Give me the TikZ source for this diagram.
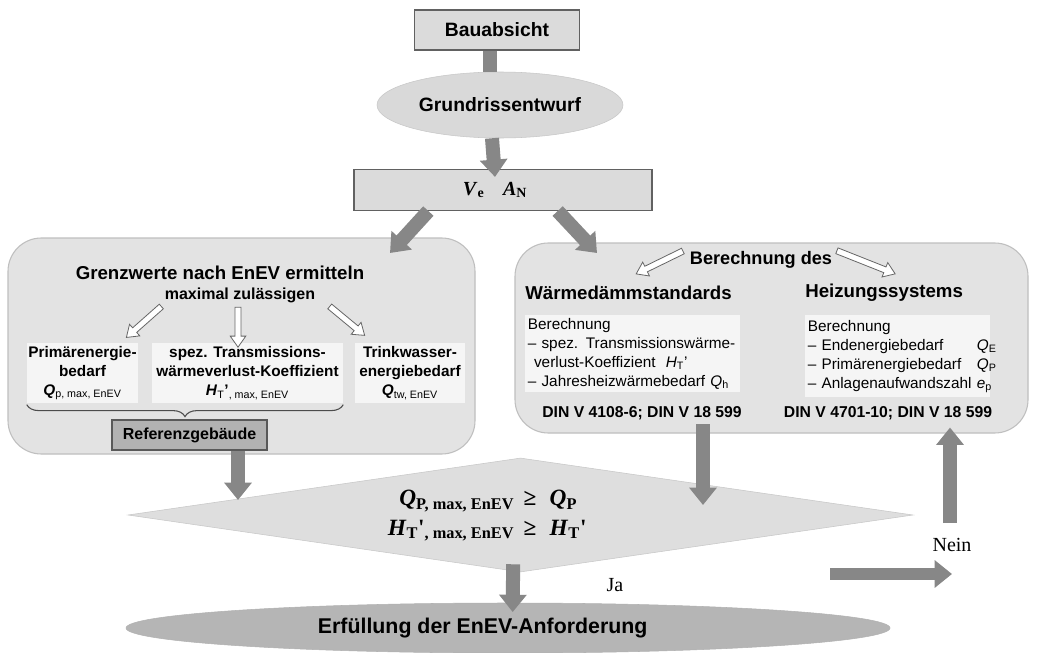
\documentclass[tikz,border=0pt]{standalone}
\usepackage{fontspec}
\setmainfont{Liberation Sans}
\newfontfamily\tnr{Liberation Serif}
\usepackage{tikz}
\usetikzlibrary{arrows.meta,positioning,calc,shapes.geometric,shapes.arrows,decorations.pathreplacing}

\begin{document}
\begin{tikzpicture}[
  x=0.75pt, y=-0.75pt,
  box/.style={draw=black!62, fill=black!14, line width=0.8pt, inner sep=0pt},
  oval/.style={ellipse, draw=black!22, fill=black!15, inner sep=0pt},
  panel/.style={draw=black!25, fill=black!11, rounded corners=25pt, line width=0.8pt},
  item/.style={fill=black!4, inner sep=0.5pt, align=center, font=\bfseries\fontsize{11.5}{14.25}\selectfont},
  note/.style={fill=black!4, inner sep=2pt, align=left, anchor=north west, minimum height=57.75pt, font=\fontsize{11.5}{14.25}\selectfont},
  arrow/.style={draw=black!47, line width=10.5pt, -{Triangle[length=13pt,width=20pt]}},
  bar/.style={draw=black!47, line width=11pt},
  hollow/.style={single arrow, draw=black!60, fill=white, line width=0.6pt, inner xsep=0pt, inner ysep=2pt,
    single arrow head extend=3.5pt, single arrow tip angle=70, sloped, allow upside down},
  curly/.style={decorate, decoration={brace, mirror, amplitude=9pt}, draw=black!70, line width=0.8pt}
]
\path[use as bounding box, fill=white] (0,0) rectangle (1039,653);

\node[box, minimum width=123.75pt, minimum height=30pt, font=\bfseries\fontsize{14.5}{17}\selectfont] (bau) at (497,30) {Bauabsicht};
\node[oval, minimum width=184.5pt, minimum height=49.5pt, font=\bfseries\fontsize{14.5}{17}\selectfont] (grund) at (500,105) {Grundrissentwurf};
\node[box, minimum width=223.5pt, minimum height=30.75pt, font=\tnr\bfseries\fontsize{15}{17}\selectfont] (ve) at (503,190) {\textit{V}\textsubscript{e}\hspace{14pt}\textit{A}\textsubscript{N}\hspace*{12pt}};

\node[panel, minimum width=350.25pt, minimum height=162pt] (lbox) at (241.5,346) {};
\node[panel, minimum width=384.75pt, minimum height=142.5pt] (rbox) at (771.5,338) {};

\node[font=\bfseries\fontsize{14}{16}\selectfont] (grenz) at (220,273) {Grenzwerte nach EnEV ermitteln};
\node[font=\bfseries\fontsize{12}{14}\selectfont] (maxz) at (240,295) {maximal zulässigen};
\node[item, minimum width=83.25pt, minimum height=45pt] (prim) at (82.5,373) {Primärenergie-\\bedarf\\\textit{Q}\textsubscript{\mdseries p, max, EnEV}};
\node[item, minimum width=143.25pt, minimum height=45pt] (trans) at (247.5,373) {spez. Transmissions-\\wärmeverlust-Koeffizient\\\textit{H}\textsubscript{\mdseries T}'\textsubscript{\mdseries , max, EnEV}};
\node[item, minimum width=82.5pt, minimum height=45pt] (trink) at (410,373) {Trinkwasser-\\energiebedarf\\\textit{Q}\textsubscript{\mdseries tw, EnEV}};
\node[draw=black!65, fill=black!30, line width=0.8pt, minimum width=116.25pt, minimum height=22.5pt, font=\bfseries\fontsize{12}{14}\selectfont] (ref) at (189.5,435) {Referenzgebäude};

\node[font=\bfseries\fontsize{13.6}{16}\selectfont] (berech) at (761,260) {Berechnung des};
\node[anchor=west, inner sep=0pt, font=\bfseries\fontsize{14}{16}\selectfont] (waerme) at (525,293) {Wärmedämmstandards};
\node[anchor=west, inner sep=0pt, font=\bfseries\fontsize{14}{16}\selectfont] (heiz) at (805,293) {Heizungssystems};
\node[note, text width=157pt] (wbox) at (525,315) {Berechnung\\– spez. Transmissionswärme-\\\hspace*{0.4em}verlust-Koeffizient~~\textit{H}\textsubscript{T}'\\– Jahresheizwärmebedarf \textit{Q}\textsubscript{h}};
\node[note, text width=134.75pt] (hbox) at (805,315) {\begin{tabular}{@{}l@{\hspace{4pt}}l@{}}
Berechnung & \\
– Endenergiebedarf & \textit{Q}\textsubscript{E}\\
– Primärenergiebedarf & \textit{Q}\textsubscript{P}\\
– Anlagenaufwandszahl & \textit{e}\textsubscript{p}
\end{tabular}};
\node[font=\bfseries\fontsize{11.8}{14}\selectfont] (din1) at (642,413) {DIN V 4108-6; DIN V 18 599};
\node[font=\bfseries\fontsize{11.8}{14}\selectfont] (din2) at (888,413) {DIN V 4701-10; DIN V 18 599};

\node[diamond, shape aspect=6.9, draw=black!22, fill=black!13, minimum width=588.75pt, minimum height=85.5pt, inner sep=0pt, font=\tnr\bfseries\fontsize{17.5}{20}\selectfont] (dia) at (520.5,515) {\begin{tabular}{@{}r@{\hspace{7pt}}c@{\hspace{10pt}}l@{}}
\textit{Q}\textsubscript{P, max, EnEV} & ≥ & \textit{Q}\textsubscript{P}\\[2pt]
\textit{H}\textsubscript{T}'\textsubscript{, max, EnEV} & ≥ & \textit{H}\textsubscript{T}'
\end{tabular}\hspace*{50pt}};
\node[ellipse, draw=black!30, fill=black!29, minimum width=573pt, minimum height=37.5pt, font=\bfseries\fontsize{16}{18}\selectfont] (fin) at (508,628) {Erfüllung der EnEV-Anforderung\hspace*{38pt}};
\node[font=\tnr\fontsize{15}{18}\selectfont] (nein) at (952,545) {Nein};
\node[font=\tnr\fontsize{15}{18}\selectfont] (ja) at (615,585) {Ja};

\coordinate (lt) at (390,253);
\coordinate (rt) at (597,253);
\coordinate (h1s) at (163,305);
\coordinate (h1e) at (128,336);
\coordinate (h2s) at (238,305);
\coordinate (h2e) at (238,345);
\coordinate (h3s) at (328,305);
\coordinate (h3e) at (363,334);
\coordinate (h4s) at (685,250);
\coordinate (h4e) at (638,273);
\coordinate (h5s) at (835,250);
\coordinate (h5e) at (893,273);
\coordinate (rd) at (238,500);
\coordinate (wd) at (703,505);
\coordinate (nh) at (830,574);
\coordinate (nu) at (950,523);

\draw[bar] ([xshift=-5.25pt]bau.south) -- ([xshift=-5.25pt]bau.south |- grund.north);
\draw[arrow] ([xshift=-6pt]grund.south) -- ([xshift=-6pt,yshift=-6pt]ve.north);
\draw[arrow] ([xshift=-56pt]ve.south) -- (lt);
\draw[arrow] ([xshift=41pt]ve.south) -- (rt);
\path (h1s) -- node[hollow, minimum height=35pt] {} (h1e);
\path (h2s) -- node[hollow, minimum height=30pt] {} (h2e);
\path (h3s) -- node[hollow, minimum height=34pt] {} (h3e);
\path (h4s) -- node[hollow, minimum height=39pt] {} (h4e);
\path (h5s) -- node[hollow, minimum height=47pt] {} (h5e);
\draw[curly] ([yshift=-1pt]prim.south west) -- ([yshift=-1pt]trans.south east);
\draw[arrow] (ref.south -| rd) -- (rd);
\draw[arrow] (din1.south -| wd) -- (wd);
\draw[arrow] ([xshift=-5.5pt,yshift=6pt]dia.south) -- ([xshift=3.5pt,yshift=-7pt]fin.north);
\draw[arrow, line width=9pt] (nh) -- (nh -| nein);
\draw[arrow] (nu) -- ($(nu |- rbox.south)+(0,-6)$);
\end{tikzpicture}
\end{document}
